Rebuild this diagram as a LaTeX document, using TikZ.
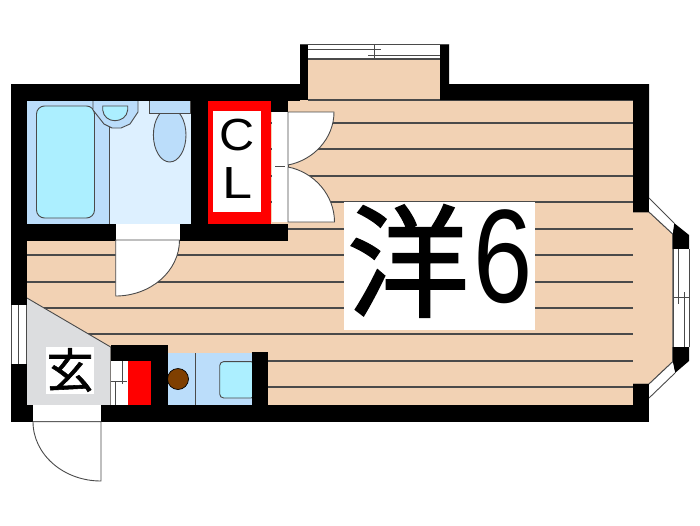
\documentclass[tikz,border=0pt]{standalone}
\usepackage{fontspec}
\setmainfont{Liberation Sans}
\newfontfamily\cjkfont[FakeBold=1.6]{Noto Sans CJK JP}
\newfontfamily\cjksmall[FakeBold=1.2]{Noto Sans CJK JP}
\definecolor{floorc}{HTML}{F2D2B4}
\definecolor{bathc}{HTML}{BBDDFA}
\definecolor{palec}{HTML}{DDF0FF}
\definecolor{tubc}{HTML}{ACEFFF}
\definecolor{hallc}{HTML}{DCDDDF}
\definecolor{linec}{HTML}{4A4A4A}
\definecolor{brownc}{HTML}{7F3F00}
\definecolor{redc}{HTML}{FF0000}
\tikzset{
  wall/.style={fill=black,draw=none},
  thin line/.style={draw=linec,line width=0.9pt},
  plank/.style={draw=linec,line width=1.1pt},
  leaf/.style={fill=white,draw=linec,line width=0.9pt},
  opening/.style={fill=white,draw=none},
  label/.style={inner sep=0pt,text=black,anchor=center}
}
\begin{document}
\begin{tikzpicture}[x=1pt,y=-1pt]
\useasboundingbox (0,0) rectangle (700,525);
% floor
\fill[floorc] (27,100) -- (308,100) -- (308,59) -- (440,59) -- (440,100) -- (633,100) -- (633,212) -- (649,212) -- (672.7,234) -- (672.7,361.7) -- (649,384) -- (633,384) -- (633,405) -- (27,405) -- cycle;
% planks
\foreach \yy in {123,149,176,202,229,255,282,308,334}{\draw[plank] (27,\yy) -- (633,\yy);}
\foreach \yy in {361,387}{\draw[plank] (268,\yy) -- (633,\yy);}
\draw[plank] (308,100) -- (633,100);
\draw[thin line] (308,59) -- (440,59);
\draw[thin line] (633,212) -- (649,212) -- (672.7,234) -- (672.7,361.7) -- (649,384) -- (633,384);
% hall
\fill[hallc] (27,298) -- (110.7,347) -- (110.7,405) -- (27,405) -- cycle;
\draw[thin line] (27,298) -- (110.7,347) -- (110.7,405);
% bath
\fill[bathc] (27,100.7) rectangle (109,224);
\fill[palec] (109,100.7) rectangle (191,224);
\draw[thin line] (109,125) -- (109,224);
\draw[thin line,fill=tubc,rounded corners=8pt] (36.5,106) rectangle (94.5,218);
\draw[thin line,fill=bathc] (93,100.7) -- (93,110) -- (104,124) -- (112,128) -- (121,128) -- (130,124) -- (138,112) -- (138,100.7);
\draw[thin line,fill=tubc] (102.7,106) -- (127.7,106) -- (127.7,110) .. controls (127,117) and (121,120.7) .. (115,120.7) .. controls (109,120.7) and (103.4,117) .. (102.7,110) -- cycle;
\draw[thin line,fill=bathc] (169.7,135) ellipse [x radius=16.3,y radius=27];
\draw[thin line,fill=bathc] (149,100.7) rectangle (190,113);
% closet
\fill[redc] (208,100.7) rectangle (271,224);
\fill[white] (212.5,110.7) rectangle (260.5,212);
\node[label,font=\fontsize{45}{45}\selectfont,xscale=1.08] (closetc) at (237,135) {C};
\node[label,font=\fontsize{45}{45}\selectfont,xscale=1.2] (closetl) at (238,183) {L};
% kitchen
\fill[bathc] (167.7,353) rectangle (251.7,405);
\draw[thin line] (195,353) -- (195,405);
\draw[fill=brownc,line width=0.7pt,draw=black] (178,379) circle (10.5);
\draw[thin line,fill=tubc,rounded corners=4pt] (219.7,361.6) rectangle (255,398);
% shoe box
\fill[white] (110.7,360) rectangle (127.7,405);
\draw[thin line] (115.7,381) -- (115.7,405);
\draw[thin line] (122.5,360) -- (122.5,384);
\draw[thin line] (111,381.7) -- (127,381.7);
\fill[redc] (127.7,361) rectangle (151,405);
% walls
\fill[wall] (11,84) rectangle (300,100.7);
\fill[wall] (300,44) rectangle (308,100);
\fill[wall] (288,84) rectangle (308,100);
\fill[wall] (11,84) rectangle (27,305);
\fill[wall] (191,100) rectangle (208,241);
\fill[wall] (27,224) rectangle (288,241);
\fill[wall] (271,100) rectangle (288,112);
\fill[wall] (11,364) rectangle (27,421.7);
\fill[wall] (11,405) rectangle (649,421.7);
\fill[wall] (110.7,344.7) rectangle (167.7,360.5);
\fill[wall] (151,344.7) rectangle (167.7,405);
\fill[wall] (251.7,352) rectangle (268,405);
\fill[wall] (440,44) -- (449,44) -- (449,84) -- (649,84) -- (649,212) -- (633,212) -- (633,100) -- (440,100) -- cycle;
\fill[wall] (633,384) -- (649,384) -- (649,421.7) -- (633,421.7) -- cycle;
\fill[wall] (674,223) -- (689,235) -- (689,249) -- (672.7,249) -- (672.7,234) -- cycle;
\fill[wall] (672.7,347) -- (689,347) -- (689,361) -- (675,373) -- (672.7,361.7) -- cycle;
% bath door
\fill[opening] (115.7,224) rectangle (179.5,240);
\draw[thin line] (115.7,240) -- (179.5,240);
\draw[leaf] (115.7,240) -- (115.7,296) .. controls (150.8,296) and (179.5,271) .. (179.5,240) -- cycle;
% closet doors
\fill[opening] (272,112) rectangle (288,222);
\draw[thin line] (288,112) -- (288,222);
\draw[leaf] (288,112) -- (334,112) .. controls (334,138) and (314,160) .. (288,165) -- cycle;
\draw[leaf] (288,222) -- (334.5,222) .. controls (334.5,195) and (314,172) .. (288,167) -- cycle;
\draw[thin line] (275,166) -- (285,166);
% top window
\fill[opening] (308,44) rectangle (440,59);
\draw[thin line] (300,44.5) -- (449,44.5);
\draw[thin line] (308,49) -- (381,49);
\draw[thin line] (368,55) -- (440,55);
\draw[thin line] (308,58.5) -- (440,58.5);
\draw[thin line] (374,44) -- (374,59);
% left window
\fill[opening] (11,305) rectangle (27,364);
\draw[thin line] (11.5,305) -- (11.5,364);
\draw[thin line] (18.3,305) -- (18.3,364);
\draw[thin line] (26,305) -- (26,364);
% entrance door
\fill[opening] (33,405) rectangle (100.5,421.7);
\draw[thin line] (33,421.7) -- (101,421.7);
\draw[leaf] (101,421.7) -- (101,481) .. controls (63,481) and (33,454) .. (33,421.7) -- cycle;
% bay window
\fill[opening] (649,198) -- (674,223) -- (672.7,234) -- (649,212) -- cycle;
\draw[thin line] (649,198) -- (674,223);
\draw[thin line] (649,212) -- (672.7,234);
\fill[opening] (649,384) -- (672.7,361.7) -- (675,373) -- (649,398) -- cycle;
\draw[thin line] (649,398) -- (675,373);
\draw[thin line] (649,384) -- (672.7,361.7);
\fill[opening] (672.7,249) rectangle (689,347);
\draw[thin line] (673,249) -- (673,347);
\draw[thin line] (689,249) -- (689,347);
\draw[thin line] (678,249) -- (678,304);
\draw[thin line] (684,292) -- (684,347);
\draw[thin line] (673,297.5) -- (689,297.5);
% room labels
\fill[white] (344,202) rectangle (535,330);
\node[label,font=\cjkfont\fontsize{122}{122}\selectfont] (yo) at (408,261) {洋};
\node[label,font=\fontsize{133}{133}\selectfont,xscale=0.8] (six) at (503,256.5) {6};
\fill[white] (46,347) rectangle (94,394);
\node[label,font=\cjksmall\fontsize{47}{47}\selectfont] (gen) at (70,370) {玄};
\end{tikzpicture}
\end{document}
